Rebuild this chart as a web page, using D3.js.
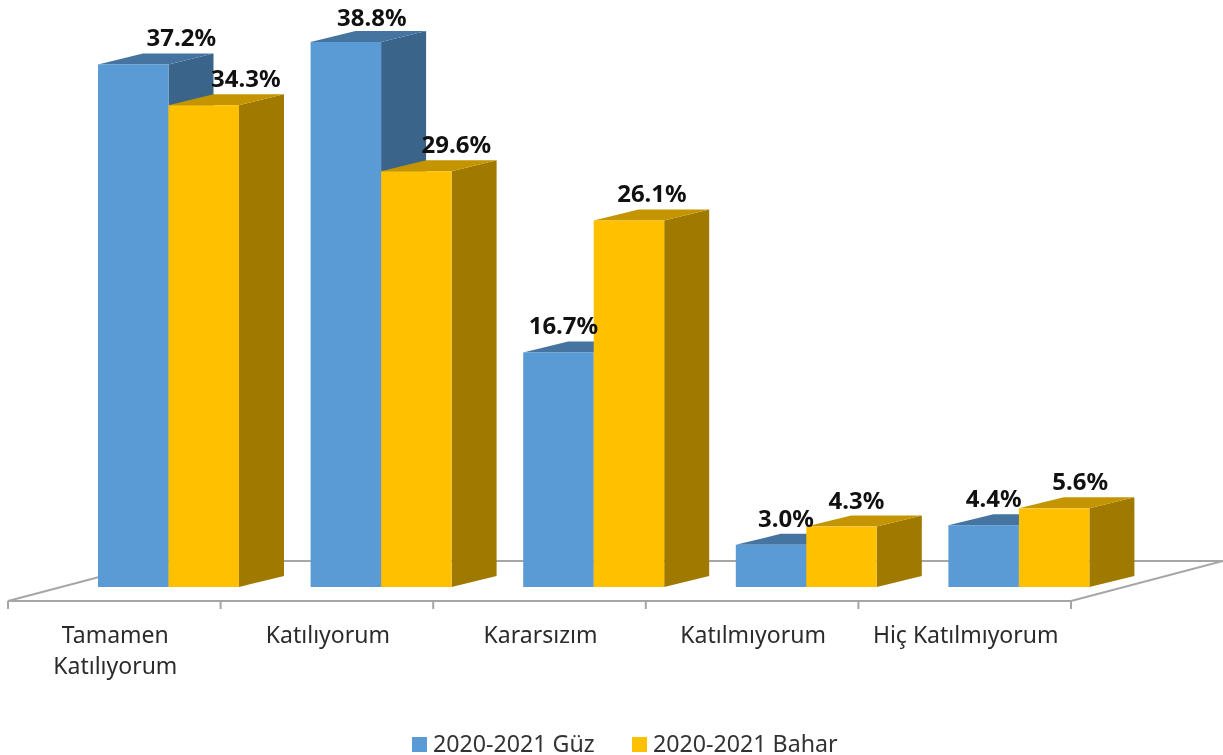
<!DOCTYPE html>
<html>
<head>
<meta charset="utf-8">
<script src="https://cdn.jsdelivr.net/npm/d3@7"></script>
<style>
    html, body { margin: 0; padding: 0; background: #fff; overflow: hidden; }
    svg { display: block; filter: blur(0.5px); }
    .cat { font-family: "Noto Sans", sans-serif; font-size: 23px; fill: #2b2b2b; }
    .val { font-family: "Noto Sans", sans-serif; font-size: 24px; font-weight: bold; fill: #111; }
    .leg { font-family: "Noto Sans", sans-serif; font-size: 23.2px; fill: #333; }
</style>
</head>
<body>
<div id="chart"></div>
<script>
const categories = ["Tamamen Katılıyorum", "Katılıyorum", "Kararsızım", "Katılmıyorum", "Hiç Katılmıyorum"];
const seriesNames = ["2020-2021 Güz", "2020-2021 Bahar"];
const guzValues = [37.2, 38.8, 16.7, 3.0, 4.4];
const baharValues = [34.3, 29.6, 26.1, 4.3, 5.6];

// hand placed label nudges, the original labels don't sit on a fixed spot
const guzLabelDx = [48, 26, 5, 15, 10];
const baharLabelDx = [42, 40, 23, 15, 26];

const width = 1223, height = 755;
const baseY = 587, floorFront = 601, floorBack = 561;
const depthX = 45, depthY = 11;
const palette = [
    {front: "#5b9bd5", top: "#44749f", side: "#3a6489"},
    {front: "#ffc000", top: "#c49500", side: "#a07a00"}
];

const svg = d3.select("#chart").append("svg").attr("width", width).attr("height", height);

const x = d3.scaleBand().domain(categories).range([8, 1071]);
const xBar = d3.scaleBand().domain(seriesNames).range([90, 231]);
const y = d3.scaleLinear().domain([0, 38.8]).range([baseY, 42]);

// floor of the 3d box
const floor = svg.append("g").attr("fill", "none").attr("stroke", "#a6a6a6").attr("stroke-width", 2);
floor.append("path").attr("d", `M8,${floorFront}L1071,${floorFront}L1223,${floorBack}L160,${floorBack}Z`);
const ticks = x.domain().map(d => x(d)).concat([1071]);
floor.selectAll("line").data(ticks).enter().append("line")
    .attr("x1", d => d).attr("x2", d => d)
    .attr("y1", floorFront).attr("y2", floorFront + 8);

const rows = categories.map((c, i) => ({
    cat: c,
    bars: [
        {name: seriesNames[0], s: 0, v: guzValues[i], dx: guzLabelDx[i]},
        {name: seriesNames[1], s: 1, v: baharValues[i], dx: baharLabelDx[i]}
    ]
}));

const groups = svg.selectAll(".group").data(rows).enter().append("g").attr("class", "group")
    .attr("transform", d => `translate(${x(d.cat)},0)`);

const bars = groups.selectAll(".bar").data(d => d.bars).enter().append("g").attr("class", "bar");

bars.append("path")
    .attr("fill", d => palette[d.s].side)
    .attr("d", d => {
        const x2 = xBar(d.name) + xBar.bandwidth();
        return `M${x2},${y(d.v)}l${depthX},${-depthY}L${x2 + depthX},${baseY - depthY}L${x2},${baseY}Z`;
    });
bars.append("path")
    .attr("fill", d => palette[d.s].top)
    .attr("d", d => {
        const x1 = xBar(d.name), w = xBar.bandwidth();
        return `M${x1},${y(d.v)}l${depthX},${-depthY}h${w}l${-depthX},${depthY}Z`;
    });
bars.append("rect")
    .attr("fill", d => palette[d.s].front)
    .attr("x", d => xBar(d.name))
    .attr("y", d => y(d.v))
    .attr("width", xBar.bandwidth())
    .attr("height", d => baseY - y(d.v));

// labels go on top of every bar
rows.forEach(r => {
    r.bars.forEach(b => {
        svg.append("text").attr("class", "val")
            .attr("text-anchor", "middle")
            .attr("x", x(r.cat) + xBar(b.name) + xBar.bandwidth() / 2 + b.dx)
            .attr("y", Math.max(y(b.v) - 18, 26))
            .text(d3.format(".1f")(b.v) + "%");
    });
});

// category labels, first one wraps on two lines
const catLabels = svg.selectAll(".cat").data(categories).enter().append("text")
    .attr("class", "cat")
    .attr("text-anchor", "middle")
    .attr("transform", d => `translate(${x(d) + x.bandwidth() / 2 + 1},643)`);
catLabels.each(function(d) {
    const lines = d === categories[0] ? d.split(" ") : [d];
    d3.select(this).selectAll("tspan").data(lines).enter().append("tspan")
        .attr("x", 0)
        .attr("dy", (l, i) => i ? 31 : 0)
        .text(l => l);
});

// legend
const legendX = [412, 632];
const legend = svg.selectAll(".legend").data(seriesNames).enter().append("g").attr("class", "legend")
    .attr("transform", (d, i) => `translate(${legendX[i]},737)`);
legend.append("rect").attr("width", 15).attr("height", 15).attr("fill", (d, i) => palette[i].front);
legend.append("text").attr("class", "leg").attr("x", 21).attr("y", 14.5).text(d => d);
</script>
</body>
</html>
